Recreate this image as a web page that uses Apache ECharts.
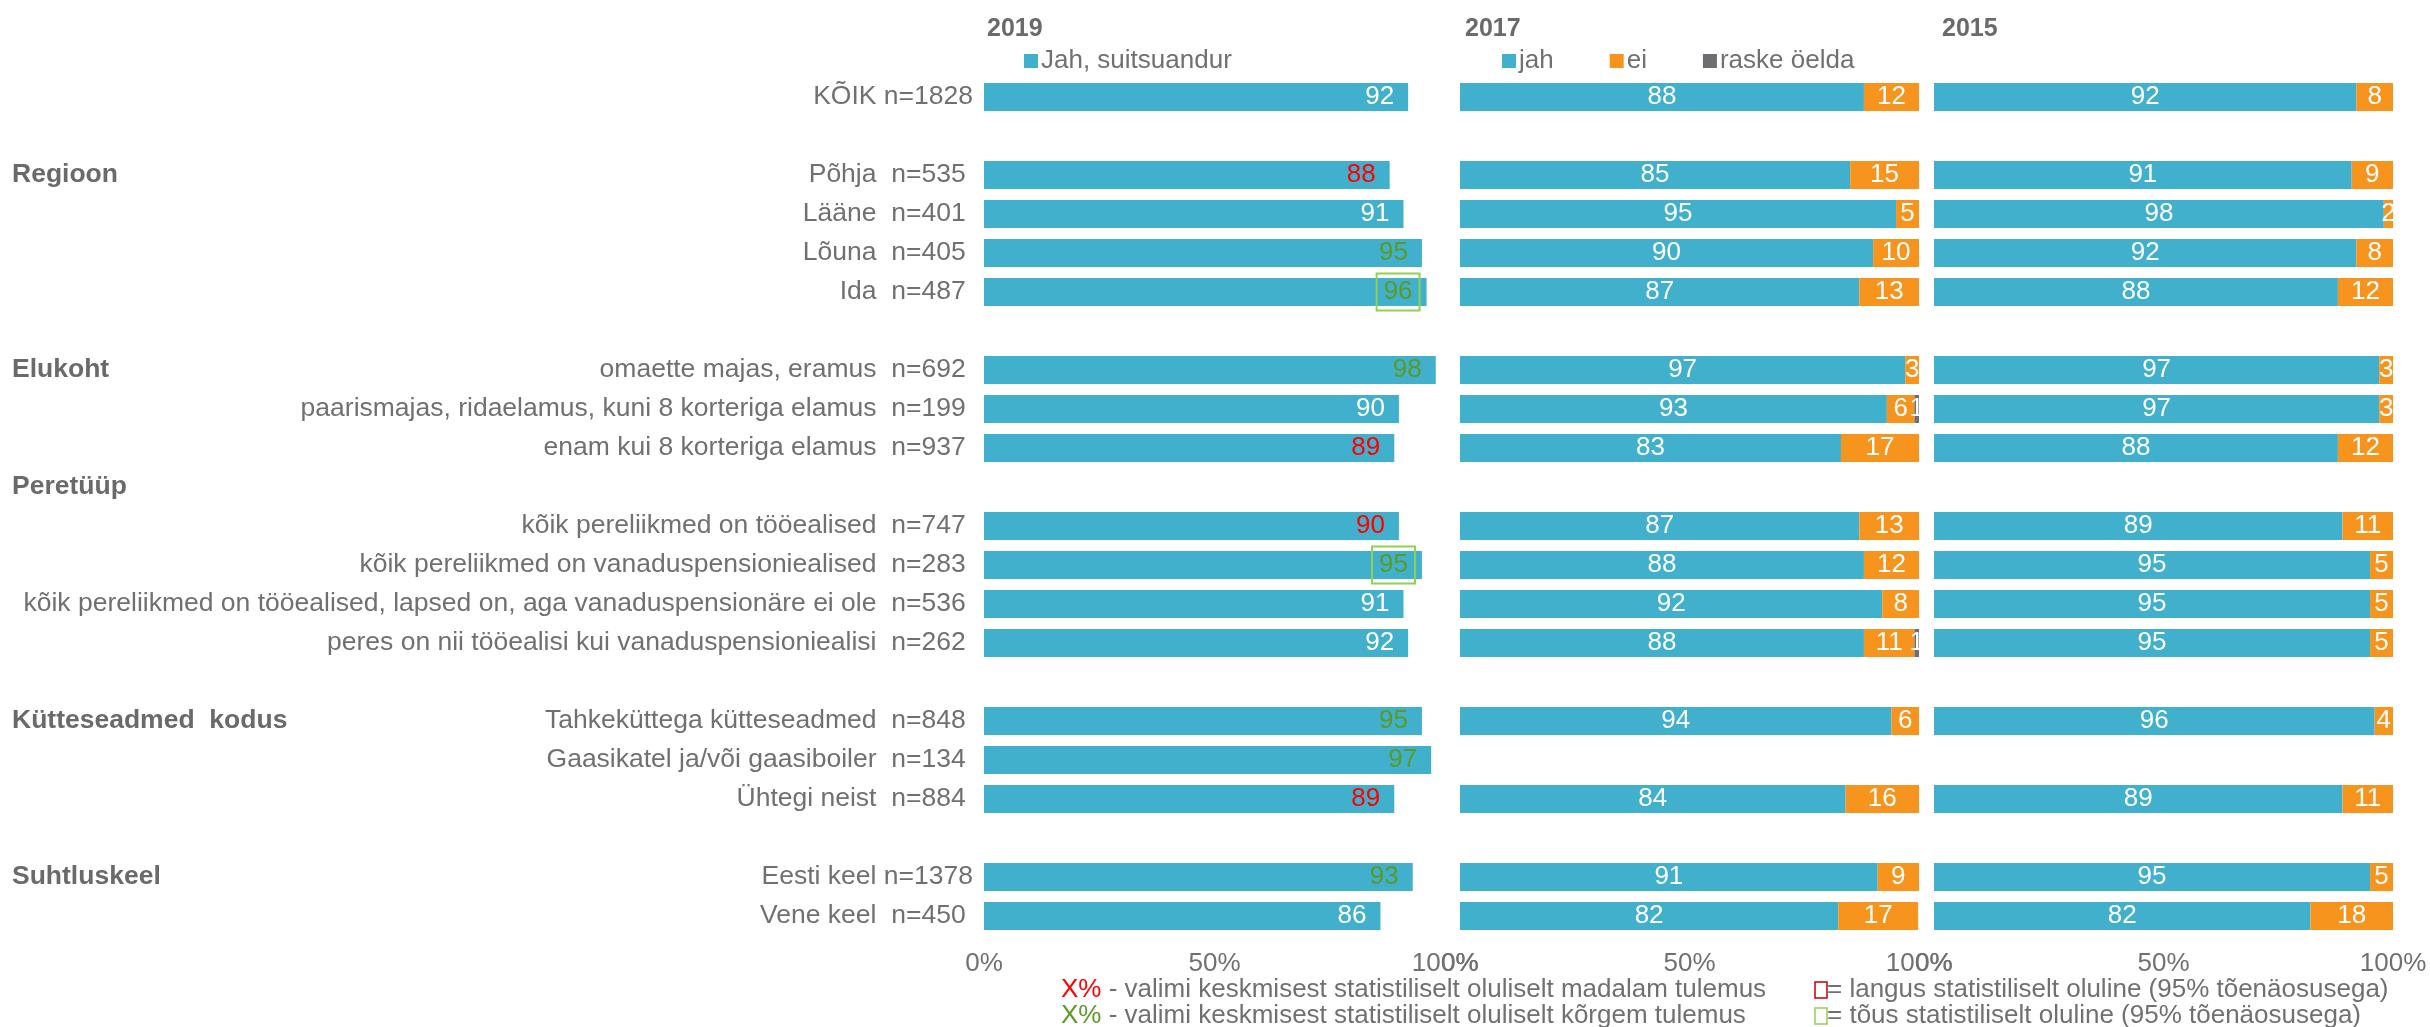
<!DOCTYPE html>
<html>
<head>
<meta charset="utf-8">
<script src="https://cdn.jsdelivr.net/npm/echarts@6/dist/echarts.min.js"></script>
<style>
  html, body { margin: 0; padding: 0; background: #fff; }
  #chart { width: 2430px; height: 1027px; }
</style>
</head>
<body>
<div id="chart"></div>
<script>
// rows, top to bottom ('' = spacer row)
const categories = [
  'KÕIK n=1828', '',
  'Põhja  n=535', 'Lääne  n=401', 'Lõuna  n=405', 'Ida  n=487', '',
  'omaette majas, eramus  n=692',
  'paarismajas, ridaelamus, kuni 8 korteriga elamus  n=199',
  'enam kui 8 korteriga elamus  n=937', '',
  'kõik pereliikmed on tööealised  n=747',
  'kõik pereliikmed on vanaduspensioniealised  n=283',
  'kõik pereliikmed on tööealised, lapsed on, aga vanaduspensionäre ei ole  n=536',
  'peres on nii tööealisi kui vanaduspensioniealisi  n=262', '',
  'Tahkeküttega kütteseadmed  n=848', 'Gaasikatel ja/või gaasiboiler  n=134', 'Ühtegi neist  n=884', '',
  'Eesti keel n=1378', 'Vene keel  n=450'
]
const groups = [
  '', '', 'Regioon', '', '', '', '', 'Elukoht', '', '', 'Peretüüp', '', '', '', '', '',
  'Kütteseadmed  kodus', '', '', '', 'Suhtluskeel', ''
]

const jah2019 = [92, null, 88, 91, 95, 96, null, 98, 90, 89, null, 90, 95, 91, 92, null, 95, 97, 89, null, 93, 86]
// low / high = significantly lower / higher than the sample average
const sig2019 = ['', '', 'low', '', 'high', 'high', '', 'high', '', 'low', '', 'low', 'high', '', '', '', 'high', 'high', 'low', '', 'high', '']
// boxed = significant rise vs previous wave
const rise2019 = [0, 0, 0, 0, 0, 1, 0, 0, 0, 0, 0, 0, 1, 0, 0, 0, 0, 0, 0, 0, 0, 0]

const jah2017 = [88, null, 85, 95, 90, 87, null, 97, 93, 83, null, 87, 88, 92, 88, null, 94, null, 84, null, 91, 82.4]
const ei2017 = [12, null, 15, 5, 10, 13, null, 3, 6, 17, null, 13, 12, 8, 11, null, 6, null, 16, null, 9, 17.4]
const raske2017 = [null, null, null, null, null, null, null, null, 1, null, null, null, null, null, 1, null, null, null, null, null, null, null]

const jah2015 = [92, null, 91, 98, 92, 88, null, 97, 97, 88, null, 89, 95, 95, 95, null, 96, null, 89, null, 95, 82]
const ei2015 = [8, null, 9, 2, 8, 12, null, 3, 3, 12, null, 11, 5, 5, 5, null, 4, null, 11, null, 5, 18]

const years = ['2019', '2017', '2015']
const xTicks = { min: 0, max: 100, interval: 50 }

const BLUE = '#40b0cd'
const ORANGE = '#f7941e'
const DARK = '#6d6e71'
const GRAY = '#707070'
const RED = '#ff0000'
const GREEN = '#5b9a24'
const FONT = 'Liberation Sans, Arial, sans-serif'

const gridTop = 77.5
const gridH = 858
const panels = [
  { left: 984, width: 461 },
  { left: 1460, width: 459 },
  { left: 1934, width: 459 }
]

const chart = echarts.init(document.getElementById('chart'))

const valueLabel = p => (p.value == null ? '' : Math.round(p.value))

const data2019 = jah2019.map((v, i) => {
  if (v == null) return null
  const label = {
    color: sig2019[i] === 'low' ? RED : sig2019[i] === 'high' ? GREEN : '#fff'
  }
  if (rise2019[i]) {
    Object.assign(label, {
      borderColor: '#92d050',
      borderWidth: 2,
      padding: [6, 7, 5, 7],
      distance: 7
    })
  }
  return { value: v, label }
})

function stacked(name, data, color, gi, stack) {
  return {
    name,
    type: 'bar',
    stack,
    xAxisIndex: gi,
    yAxisIndex: gi + 1, // index 1 holds the group labels of panel 1
    barWidth: 28,
    itemStyle: { color },
    label: {
      show: true,
      position: 'inside',
      color: '#fff',
      fontSize: 26,
      fontFamily: FONT,
      formatter: valueLabel
    },
    data
  }
}

const option = {
  animation: false,
  backgroundColor: '#fff',
  textStyle: { fontFamily: FONT },
  title: [
    ...years.map((y, i) => ({
      text: y,
      left: [982, 1460, 1937][i],
      top: 12,
      textStyle: { fontSize: 25, fontWeight: 'bold', color: '#6a6a6a', fontFamily: FONT }
    })),
    {
      left: 1056,
      top: 972,
      text: '{r|X%} - valimi keskmisest statistiliselt oluliselt madalam tulemus\n{g|X%} - valimi keskmisest statistiliselt oluliselt kõrgem tulemus',
      textStyle: {
        fontSize: 26, fontWeight: 'normal', color: GRAY, lineHeight: 26, fontFamily: FONT,
        rich: {
          r: { color: RED, fontSize: 26, lineHeight: 26, fontFamily: FONT },
          g: { color: GREEN, fontSize: 26, lineHeight: 26, fontFamily: FONT }
        }
      }
    },
    {
      left: 1810,
      top: 972,
      text: '{rb|}= langus statistiliselt oluline (95% tõenäosusega)\n{gb|}= tõus statistiliselt oluline (95% tõenäosusega)',
      textStyle: {
        fontSize: 26, fontWeight: 'normal', color: GRAY, lineHeight: 26, fontFamily: FONT,
        rich: {
          rb: { width: 12, height: 16, borderColor: '#c00000', borderWidth: 1.5 },
          gb: { width: 12, height: 16, borderColor: '#92d050', borderWidth: 1.5 }
        }
      }
    }
  ],
  legend: [
    {
      data: ['Jah, suitsuandur'],
      left: 1019,
      top: 43,
      icon: 'rect',
      itemWidth: 14,
      itemHeight: 14,
      selectedMode: false,
      textStyle: { fontSize: 26, color: GRAY, fontFamily: FONT, padding: [0, 0, 0, -2] }
    },
    {
      data: ['jah', 'ei', 'raske öelda'],
      left: 1497,
      top: 43,
      icon: 'rect',
      itemWidth: 14,
      itemHeight: 14,
      itemGap: 56,
      selectedMode: false,
      textStyle: { fontSize: 26, color: GRAY, fontFamily: FONT, padding: [0, 0, 0, -2] }
    }
  ],
  grid: panels.map(p => ({
    left: p.left,
    width: p.width,
    top: gridTop,
    height: gridH,
    containLabel: false,
    outerBoundsMode: 'none'
  })),
  xAxis: panels.map((p, i) => ({
    type: 'value',
    gridIndex: i,
    min: xTicks.min,
    max: xTicks.max,
    interval: xTicks.interval,
    axisLine: { show: false },
    axisTick: { show: false },
    splitLine: { show: false },
    axisLabel: {
      formatter: '{value}%',
      fontSize: 26,
      color: GRAY,
      fontFamily: FONT,
      margin: 15
    }
  })),
  yAxis: [
    {
      type: 'category',
      gridIndex: 0,
      position: 'left',
      inverse: true,
      data: categories,
      axisLine: { show: false },
      axisTick: { show: false },
      axisLabel: {
        interval: 0,
        fontSize: 26.5,
        color: GRAY,
        fontFamily: FONT,
        margin: 11,
        padding: [3, 0, 0, 0],
        // three-digit n values sit a little left of the four-digit ones
        formatter: s => (/n=\d{3}$/.test(s) ? s + ' ' : s)
      }
    },
    {
      type: 'category',
      gridIndex: 0,
      position: 'left',
      offset: 0,
      inverse: true,
      data: groups,
      axisLine: { show: false },
      axisTick: { show: false },
      axisLabel: {
        interval: 0,
        align: 'left',
        margin: 972,
        padding: [3, 0, 0, 0],
        fontSize: 26.5,
        fontWeight: 'bold',
        color: '#6a6a6a',
        fontFamily: FONT
      }
    },
    ...[1, 2].map(i => ({
      type: 'category',
      gridIndex: i,
      position: 'left',
      inverse: true,
      data: categories,
      axisLine: { show: false },
      axisTick: { show: false },
      axisLabel: { show: false }
    }))
  ],
  series: [
    {
      name: 'Jah, suitsuandur',
      type: 'bar',
      xAxisIndex: 0,
      yAxisIndex: 0,
      barWidth: 28,
      itemStyle: { color: BLUE },
      label: {
        show: true,
        position: 'insideRight',
        distance: 14,
        fontSize: 26,
        fontFamily: FONT
      },
      data: data2019
    },
    stacked('jah', jah2017, BLUE, 1, 's2017'),
    stacked('ei', ei2017, ORANGE, 1, 's2017'),
    stacked('raske öelda', raske2017, DARK, 1, 's2017'),
    stacked('jah', jah2015, BLUE, 2, 's2015'),
    stacked('ei', ei2015, ORANGE, 2, 's2015')
  ]
}

chart.setOption(option)
</script>
</body>
</html>
